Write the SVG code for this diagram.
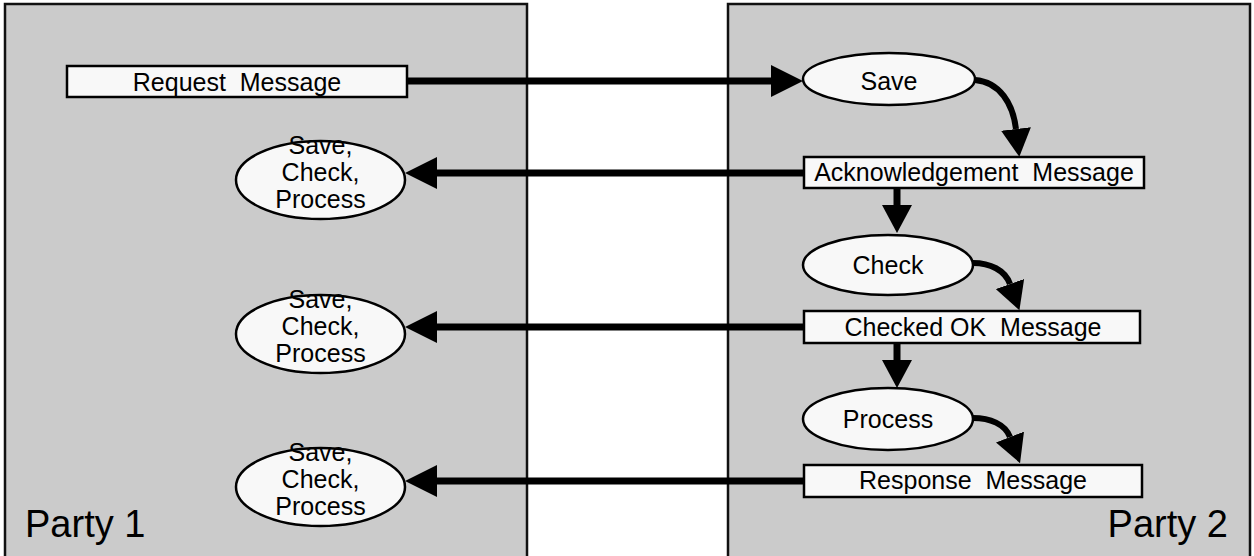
<svg xmlns="http://www.w3.org/2000/svg" width="1254" height="556" viewBox="0 0 1254 556">
  <style>
    .panel { fill: #cbcbcb; stroke: #111; stroke-width: 2.5; }
    .box { fill: #f8f8f8; stroke: #000; stroke-width: 2.5; }
    .label { font-family: "Liberation Sans", Arial, sans-serif; font-size: 25px; fill: #000; text-anchor: middle; }
    .party { font-family: "Liberation Sans", Arial, sans-serif; font-size: 38px; fill: #000; }
    .flow { fill: none; stroke: #000; stroke-width: 7; }
    .curve { fill: none; stroke: #000; stroke-width: 6; }
  </style>
  <defs>
    <marker id="head" markerUnits="userSpaceOnUse" markerWidth="32" markerHeight="32" refX="0" refY="16" orient="auto">
      <path d="M0,0 L32,16 L0,32 z" fill="#000"/>
    </marker>
    <marker id="headSmall" markerUnits="userSpaceOnUse" markerWidth="28" markerHeight="30" refX="0" refY="15" orient="auto">
      <path d="M0,0 L28,15 L0,30 z" fill="#000"/>
    </marker>
  </defs>

  <!-- party panels -->
  <g id="party1">
    <rect class="panel" x="5" y="4" width="522" height="570"/>
    <text class="party" x="25" y="537">Party 1</text>
  </g>
  <g id="party2">
    <rect class="panel" x="728" y="4" width="522" height="570"/>
    <text class="party" x="1228" y="537" text-anchor="end">Party 2</text>
  </g>

  <!-- connectors -->
  <g id="connectors">
    <line class="flow" x1="407" y1="81" x2="771" y2="81" marker-end="url(#head)"/>
    <path class="curve" d="M975,80 C1000,82 1013,104 1016,129" marker-end="url(#headSmall)"/>
    <line class="flow" x1="804" y1="173" x2="437" y2="173" marker-end="url(#head)"/>
    <line class="flow" x1="897" y1="188" x2="897" y2="205" marker-end="url(#headSmall)"/>
    <path class="curve" d="M973,263 C990,263 1005,270 1010,284" marker-end="url(#headSmall)"/>
    <line class="flow" x1="804" y1="327" x2="437" y2="327" marker-end="url(#head)"/>
    <line class="flow" x1="897" y1="343" x2="897" y2="360" marker-end="url(#headSmall)"/>
    <path class="curve" d="M973,418 C990,418 1005,424 1010,437" marker-end="url(#headSmall)"/>
    <line class="flow" x1="804" y1="481" x2="437" y2="481" marker-end="url(#head)"/>
  </g>

  <!-- party 1 nodes -->
  <g id="request">
    <rect class="box" x="67" y="66" width="340" height="31"/>
    <text class="label" x="237" y="91" xml:space="preserve">Request  Message</text>
  </g>
  <g id="p1-process-1">
    <ellipse class="box" cx="320.5" cy="180" rx="84.5" ry="39"/>
    <text class="label" x="320.5" y="154">Save,</text>
    <text class="label" x="320.5" y="181">Check,</text>
    <text class="label" x="320.5" y="208">Process</text>
  </g>
  <g id="p1-process-2">
    <ellipse class="box" cx="320.5" cy="334" rx="84.5" ry="39"/>
    <text class="label" x="320.5" y="308">Save,</text>
    <text class="label" x="320.5" y="335">Check,</text>
    <text class="label" x="320.5" y="362">Process</text>
  </g>
  <g id="p1-process-3">
    <ellipse class="box" cx="320.5" cy="487" rx="84.5" ry="39"/>
    <text class="label" x="320.5" y="461">Save,</text>
    <text class="label" x="320.5" y="488">Check,</text>
    <text class="label" x="320.5" y="515">Process</text>
  </g>

  <!-- party 2 nodes -->
  <g id="save">
    <ellipse class="box" cx="889" cy="79" rx="86" ry="26"/>
    <text class="label" x="889" y="90">Save</text>
  </g>
  <g id="ack">
    <rect class="box" x="804" y="157" width="340" height="31"/>
    <text class="label" x="974" y="181" xml:space="preserve">Acknowledgement  Message</text>
  </g>
  <g id="check">
    <ellipse class="box" cx="888" cy="265" rx="85" ry="30"/>
    <text class="label" x="888" y="274">Check</text>
  </g>
  <g id="checked-ok">
    <rect class="box" x="804" y="311" width="336" height="32"/>
    <text class="label" x="973" y="336" xml:space="preserve">Checked OK  Message</text>
  </g>
  <g id="process">
    <ellipse class="box" cx="888" cy="419" rx="85" ry="31"/>
    <text class="label" x="888" y="428">Process</text>
  </g>
  <g id="response">
    <rect class="box" x="804" y="465" width="338" height="32"/>
    <text class="label" x="973" y="489" xml:space="preserve">Response  Message</text>
  </g>
</svg>
